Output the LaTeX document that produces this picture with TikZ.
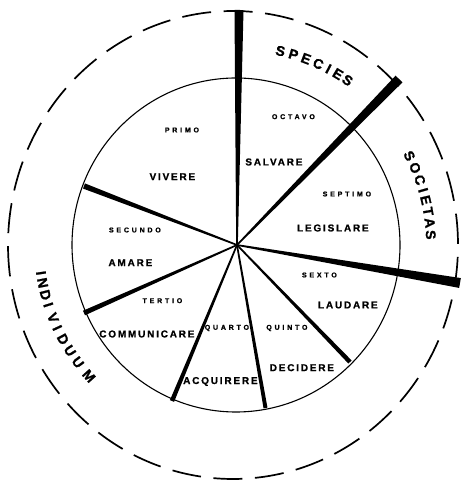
\documentclass[tikz,border=0pt]{standalone}
\usepackage{fontspec}
\setmainfont{Liberation Sans}[BoldFeatures={FakeBold=1.2}]
\newfontfamily\bigfont{Liberation Sans}[LetterSpace=18, BoldFeatures={FakeBold=1}]
\newfontfamily\smallfont{Liberation Sans}[LetterSpace=40, BoldFeatures={FakeBold=1}]
\usetikzlibrary{calc}
\newcommand\spokeshape[2]{\fill ($(C)!0.8pt!90:(#1)$) -- ($(#1)!#2!-90:(C)$) -- ($(#1)!#2!90:(C)$) -- ($(C)!0.8pt!-90:(#1)$) -- cycle;}
\begin{document}
\begin{tikzpicture}[x=1pt,y=1pt,
  big/.style={font=\bigfont\bfseries\fontsize{10}{10}\selectfont, inner sep=0pt, xshift=0.9pt},
  small/.style={font=\smallfont\bfseries\fontsize{7}{7}\selectfont, inner sep=0pt, xshift=1.4pt},
  curve/.style={font=\bfseries\fontsize{14}{14}\selectfont, inner sep=0pt},
  innerring/.style={line width=1.1pt},
  outerring/.style={line width=1.7pt}]
\useasboundingbox (0,0) rectangle (462,481);
\fill[white] (0,0) rectangle (462,481);
\coordinate (C) at (237,236);
\coordinate (Oi) at (236,236);
\coordinate (Oo) at (233,236);
% inner circle
\draw[innerring] (Oi) ellipse [x radius=164pt, y radius=167pt];
% outer dashed circle
\foreach \k in {0,...,33}{
  \pgfmathsetmacro\sa{88.7-\k*10.588-3.7}
  \pgfmathsetmacro\ea{88.7-\k*10.588+3.7}
  \draw[outerring] ($(Oo)+(\sa:225pt and 234pt)$) arc[start angle=\sa, end angle=\ea, x radius=225pt, y radius=234pt];
}
% spokes
\coordinate (e1) at (239,471);
\coordinate (e2) at (399,402);
\coordinate (e3) at (460,198);
\coordinate (e4) at (350,119);
\coordinate (e5) at (265.5,73);
\coordinate (e6) at (172,80);
\coordinate (e7) at (84,168);
\coordinate (e8) at (84,295);
\spokeshape{e1}{4.5pt}
\spokeshape{e2}{4.8pt}
\spokeshape{e3}{5pt}
\spokeshape{e4}{2.25pt}
\spokeshape{e5}{2pt}
\spokeshape{e6}{2.25pt}
\spokeshape{e7}{2.5pt}
\spokeshape{e8}{2.75pt}
% sector labels
\node[small] (primo) at (180.5,351) {PRIMO};
\node[big] (vivere) at (171.5,304.3) {VIVERE};
\node[small] (secundo) at (133.5,251) {SECUNDO};
\node[big] (amare) at (129.5,218.3) {AMARE};
\node[small] (tertio) at (161,180.3) {TERTIO};
\node[big] (communicare) at (146,147) {COMMUNICARE};
\node[small] (quarto) at (225.5,153) {QUARTO};
\node[big] (acquirere) at (219.5,99.5) {ACQUIRERE};
\node[small] (quinto) at (285.5,153) {QUINTO};
\node[big] (decidere) at (301,113.3) {DECIDERE};
\node[small] (sexto) at (318,206) {SEXTO};
\node[big] (laudare) at (347,176) {LAUDARE};
\node[small] (septimo) at (345.5,287) {SEPTIMO};
\node[big] (legislare) at (332,253) {LEGISLARE};
\node[small] (octavo) at (292,364.3) {OCTAVO};
\node[big] (salvare) at (273,319) {SALVARE};
% ring labels
\foreach \ch/\ang [count=\i, evaluate=\ang as \rot using \ang-90] in {S/77.1, P/73.2, E/69.4, C/65.6, I/62.3, E/59.2, S/55.9}
  \node[curve, rotate=\rot] (species\i) at ($(Oi)+(\ang:199pt)$) {\ch};
\foreach \ch/\ang [count=\i, evaluate=\ang as \rot using \ang-90] in {S/27.2, O/23.3, C/19.5, I/16.3, E/13.3, T/9.9, A/6.5, S/3.0}
  \node[curve, rotate=\rot] (societas\i) at ($(Oi)+(\ang:195pt)$) {\ch};
\foreach \ch/\ang [count=\i, evaluate=\ang as \rot using \ang+90] in {I/188.2, N/191.1, D/194.7, I/197.7, V/201.7, I/204.9, D/208.6, U/212.5, U/216.6, M/221.7}
  \node[curve, rotate=\rot] (individuum\i) at ($(Oi)+(\ang:197pt)$) {\ch};
\end{tikzpicture}
\end{document}
